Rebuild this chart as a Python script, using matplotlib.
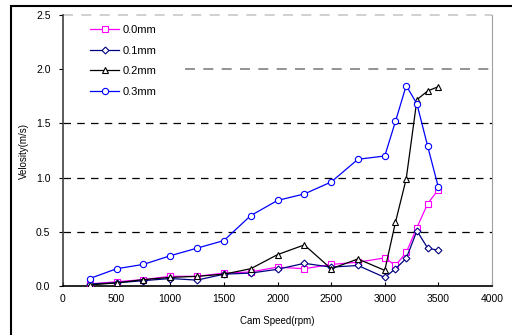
# Cam speed vs velocity for four clearances, Excel-style line chart

import matplotlib.pyplot as plt
from matplotlib.patches import Rectangle

plt.rcParams['font.family'] = ['Liberation Sans', 'DejaVu Sans']

# --- Data ---
speed = [250, 500, 750, 1000, 1250, 1500, 1750, 2000, 2250, 2500,
         2750, 3000, 3100, 3200, 3300, 3400, 3500]
vel_00 = [0.02, 0.04, 0.06, 0.09, 0.09, 0.12, 0.13, 0.175, 0.16, 0.20,
          0.22, 0.26, 0.19, 0.31, 0.54, 0.76, 0.89]
vel_01 = [0.02, 0.03, 0.05, 0.07, 0.055, 0.11, 0.12, 0.155, 0.21, 0.175,
          0.19, 0.08, 0.16, 0.255, 0.51, 0.35, 0.33]
vel_02 = [0.01, 0.03, 0.06, 0.08, 0.09, 0.11, 0.16, 0.29, 0.38, 0.16,
          0.25, 0.145, 0.59, 0.99, 1.72, 1.80, 1.84]
vel_03 = [0.07, 0.16, 0.20, 0.28, 0.35, 0.42, 0.65, 0.79, 0.85, 0.96,
          1.17, 1.20, 1.52, 1.85, 1.68, 1.29, 0.91]

labels = ['0.0mm', '0.1mm', '0.2mm', '0.3mm']
colors = ['#FF00FF', '#000080', 'black', '#0000FF']
markers = ['s', 'D', '^', 'o']
msizes = [4.5, 3.5, 5, 4.5]

xticks = [0, 500, 1000, 1500, 2000, 2500, 3000, 3500, 4000]
yticks = [0.0, 0.5, 1.0, 1.5, 2.0, 2.5]

# --- Figure ---
fig = plt.figure(figsize=(5.12, 3.35), dpi=100)
ax = fig.add_axes([0.123, 0.146, 0.838, 0.809])

# outer chart border (only top and left visible)
fig.patches.append(Rectangle((11 / 512, -0.1), 1.2, (335 - 6) / 335 + 0.1,
                             transform=fig.transFigure, fill=False,
                             edgecolor='black', linewidth=1.5))

# dashed gridlines
dash = (0, (6, 5))
for y in [0.5, 1.0, 1.5]:
    ax.axhline(y, color='black', linestyle=dash, linewidth=0.9, zorder=1)
ax.axhline(2.0, xmin=0.284, color='#808080', linestyle=dash, linewidth=1.2, zorder=1)
ax.axhline(2.5, color='#C8C8C8', linestyle=dash, linewidth=1.2, zorder=1, clip_on=False)

for vals, lab, c, m, ms in zip([vel_00, vel_01, vel_02, vel_03], labels, colors, markers, msizes):
    ax.plot(speed, vals, color=c, marker=m, markersize=ms, markerfacecolor='white',
            markeredgecolor=c, markeredgewidth=0.8, linewidth=0.9, label=lab, zorder=3)

ax.set_xlim(0, 4000)
ax.set_ylim(0, 2.5)
ax.set_xticks(xticks)
ax.set_yticks(yticks)
ax.set_yticklabels([f'{v:.1f}' for v in yticks])
ax.tick_params(axis='x', direction='in', length=3, labelsize=7.5, pad=6)
ax.tick_params(axis='y', direction='out', length=3, labelsize=7.5, pad=6)

ax.spines['top'].set_visible(False)
ax.spines['right'].set_color('#A0A0A0')
ax.spines['left'].set_color('#404040')
ax.spines['left'].set_linewidth(1.2)
ax.spines['bottom'].set_linewidth(1.2)

ax.set_xlabel('Cam Speed(rpm)', fontsize=7, labelpad=8)
ax.set_ylabel('Velosity(m/s)', fontsize=7, labelpad=5)

leg = ax.legend(loc='upper left', bbox_to_anchor=(0.04, 1.0), frameon=False,
                fontsize=8, handlelength=2.6, handletextpad=0.3, labelspacing=0.95)

plt.savefig('out.png', dpi=100)
